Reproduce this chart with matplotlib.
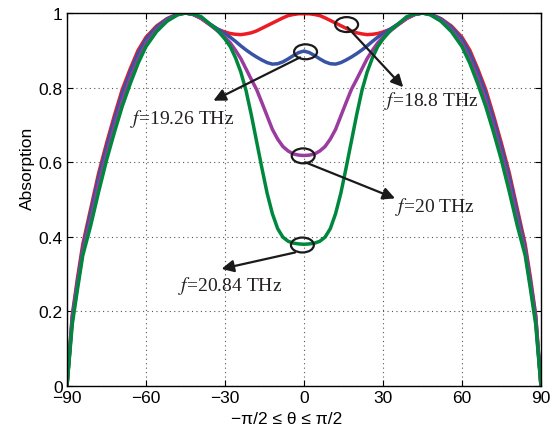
import matplotlib
matplotlib.use("Agg")
import matplotlib.pyplot as plt
from matplotlib.patches import Ellipse

# angle samples (degrees) and absorption
theta = [-90, -88, -86, -84, -81, -78, -75, -72, -69, -66, -63, -60, -56, -52, -48, -45,
         -42, -39, -36, -33, -30, -28, -26, -24, -22, -20, -18, -16, -14, -12, -10, -8, -6, -4, -2, 0,
         2, 4, 6, 8, 10, 12, 14, 16, 18, 20, 22, 24, 26, 28, 30, 33, 36, 39, 42,
         45, 48, 52, 56, 60, 63, 66, 69, 72, 75, 78, 81, 84, 86, 88, 90]

abs_188 = [0.0, 0.19, 0.29, 0.38, 0.475, 0.57, 0.65, 0.725, 0.795, 0.85, 0.9, 0.935, 0.965, 0.985, 0.997, 1.0,
           0.996, 0.985, 0.97, 0.957, 0.949, 0.945, 0.943, 0.942, 0.944, 0.947, 0.952, 0.959, 0.966, 0.973,
           0.98, 0.987, 0.993, 0.996, 0.998, 0.998,
           0.998, 0.996, 0.993, 0.987, 0.98, 0.973, 0.966, 0.959, 0.952, 0.947, 0.944, 0.942, 0.943, 0.945,
           0.949, 0.957, 0.97, 0.985, 0.996,
           1.0, 0.997, 0.985, 0.965, 0.935, 0.9, 0.85, 0.795, 0.725, 0.65, 0.57, 0.475, 0.38, 0.29, 0.19, 0.0]

abs_1926 = [0.0, 0.185, 0.28, 0.37, 0.465, 0.56, 0.64, 0.715, 0.785, 0.842, 0.892, 0.93, 0.962, 0.984, 0.997, 1.0,
            0.996, 0.986, 0.972, 0.958, 0.945, 0.935, 0.924, 0.912, 0.901, 0.891, 0.882, 0.874, 0.867, 0.863,
            0.864, 0.869, 0.877, 0.886, 0.894, 0.898,
            0.894, 0.886, 0.877, 0.869, 0.864, 0.863, 0.867, 0.874, 0.882, 0.891, 0.901, 0.912, 0.924, 0.935,
            0.945, 0.958, 0.972, 0.986, 0.996,
            1.0, 0.997, 0.984, 0.962, 0.93, 0.892, 0.842, 0.785, 0.715, 0.64, 0.56, 0.465, 0.37, 0.28, 0.185, 0.0]

abs_20 = [0.0, 0.175, 0.27, 0.36, 0.445, 0.54, 0.62, 0.695, 0.765, 0.825, 0.875, 0.918, 0.955, 0.98, 0.996, 1.0,
          0.996, 0.986, 0.97, 0.953, 0.935, 0.92, 0.9, 0.878, 0.85, 0.822, 0.795, 0.76, 0.724, 0.688,
          0.662, 0.642, 0.63, 0.622, 0.619, 0.618,
          0.619, 0.622, 0.63, 0.642, 0.662, 0.688, 0.724, 0.76, 0.795, 0.822, 0.85, 0.878, 0.9, 0.92,
          0.935, 0.953, 0.97, 0.986, 0.996,
          1.0, 0.996, 0.98, 0.955, 0.918, 0.875, 0.825, 0.765, 0.695, 0.62, 0.54, 0.445, 0.36, 0.27, 0.175, 0.0]

abs_2084 = [0.0, 0.165, 0.26, 0.35, 0.43, 0.52, 0.605, 0.68, 0.75, 0.81, 0.865, 0.91, 0.95, 0.978, 0.995, 1.0,
            0.997, 0.99, 0.972, 0.955, 0.93, 0.91, 0.88, 0.842, 0.792, 0.727, 0.656, 0.585, 0.517, 0.462,
            0.422, 0.399, 0.388, 0.383, 0.381, 0.38,
            0.381, 0.383, 0.388, 0.399, 0.422, 0.462, 0.517, 0.585, 0.656, 0.727, 0.792, 0.842, 0.88, 0.91,
            0.93, 0.955, 0.972, 0.99, 0.997,
            1.0, 0.995, 0.978, 0.95, 0.91, 0.865, 0.81, 0.75, 0.68, 0.605, 0.52, 0.43, 0.35, 0.26, 0.165, 0.0]

x_ticks = [-90, -60, -30, 0, 30, 60, 90]
x_tick_labels = ["\u221290", "\u221260", "\u221230", "0", "30", "60", "90"]
y_ticks = [0, 0.2, 0.4, 0.6, 0.8, 1.0]
y_tick_labels = ["0", "0.2", "0.4", "0.6", "0.8", "1"]

# (label, ellipse centre, arrow start, arrow head, text position)
notes = [
    ("18.8 THz", (16.2, 0.969), (16.5, 0.962), (37.7, 0.801), (30.5, 0.767)),
    ("19.26 THz", (0.6, 0.896), (-1.5, 0.881), (-34.4, 0.765), (-66.0, 0.719)),
    ("20 THz", (-0.3, 0.617), (0.4, 0.6), (34.6, 0.503), (34.6, 0.483)),
    ("20.84 THz", (-0.6, 0.378), (-3.4, 0.358), (-31.3, 0.314), (-47.7, 0.27)),
]

plt.rcParams["font.family"] = ["Liberation Sans", "DejaVu Sans"]
plt.rcParams["mathtext.fontset"] = "stix"

fig = plt.figure(figsize=(5.54, 4.35), dpi=100)
ax = fig.add_axes([0.1209, 0.1103, 0.8556, 0.8575])

line_kw = dict(lw=2.5, solid_joinstyle="round", solid_capstyle="round")
ax.plot(theta, abs_188, color="#ed1c24", **line_kw)
ax.plot(theta, abs_1926, color="#3953a4", **line_kw)
ax.plot(theta, abs_20, color="#9b3b9e", **line_kw)
ax.plot(theta, abs_2084, color="#00873e", **line_kw)

for label, centre, start, head, text_pos in notes:
    ax.add_patch(Ellipse(centre, 8.7, 0.04, fill=False, ec="#1a1a1a", lw=1.6, zorder=5))
    ax.annotate("", xy=head, xytext=start,
                arrowprops=dict(arrowstyle="-|>", color="#1a1a1a", lw=1.6,
                                mutation_scale=18, shrinkA=0, shrinkB=0),
                zorder=6)
    ax.text(text_pos[0], text_pos[1], r"$\mathit{f}$=" + label,
            family=["Liberation Serif", "DejaVu Serif"], fontsize=14,
            color="#231f20", ha="left", va="center")

ax.set_xlim(-90, 90)
ax.set_ylim(0, 1)
ax.set_xticks(x_ticks)
ax.set_xticklabels(x_tick_labels)
ax.set_yticks(y_ticks)
ax.set_yticklabels(y_tick_labels)
ax.tick_params(direction="in", top=True, right=True, labelsize=12.5, length=4, pad=3)
ax.grid(True, linestyle=(0, (1, 3)), color="#555555", lw=0.8)
for sp in ax.spines.values():
    sp.set_linewidth(1.0)

ax.set_ylabel("Absorption", fontsize=12.5)
ax.set_xlabel("\u2212\u03c0/2 \u2264 \u03b8 \u2264 \u03c0/2", fontsize=12.5)
# the labels sit off-centre in the original
ax.yaxis.set_label_coords(-0.068, 0.587)
ax.xaxis.set_label_coords(0.463, -0.067)

fig.savefig("out.png", dpi=100)
